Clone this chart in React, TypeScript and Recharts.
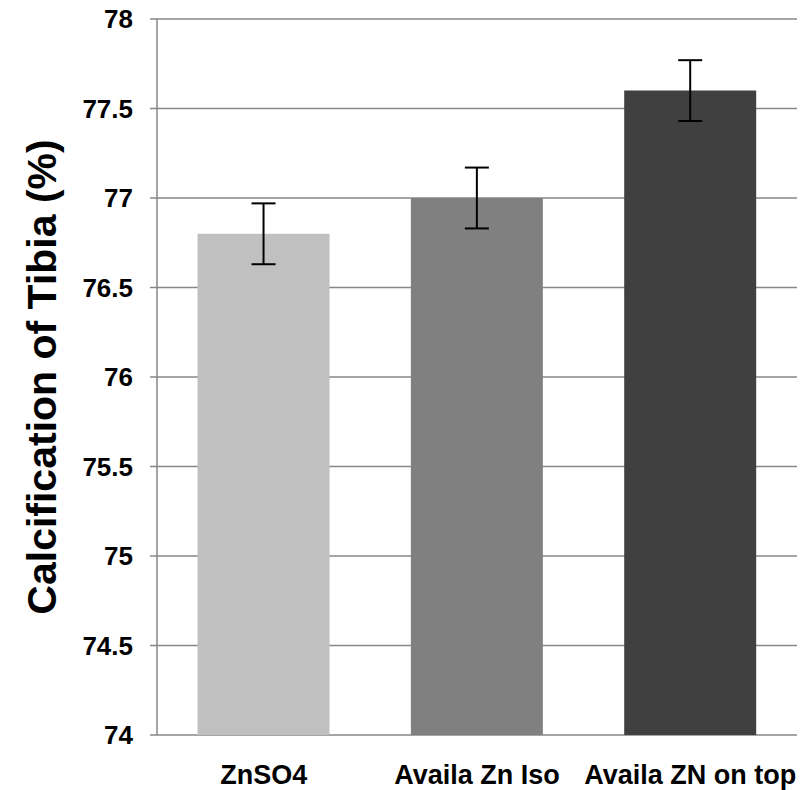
import React from 'react';
import { BarChart, Bar, XAxis, YAxis, CartesianGrid, Cell, ErrorBar } from 'recharts';

const categories = ['ZnSO4', 'Availa Zn Iso', 'Availa ZN on top'];
const values = [76.8, 77.0, 77.6];
const errors = [0.17, 0.17, 0.17];
const colors = ['#C0C0C0', '#808080', '#404040'];
const yTicks = [74, 74.5, 75, 75.5, 76, 76.5, 77, 77.5, 78];
const boundaryTicks = [0, 1, 2, 3];
const yLabel = 'Calcification of Tibia (%)';

const data = categories.map((name, i) => ({ name, value: values[i], err: errors[i] }));

const FONT = '"Liberation Sans", Arial, sans-serif';
const GRID = '#878787';

const YLabel = (props: any) => {
  const vb = props.viewBox || {};
  const cx = (vb.x ?? 0) + 42;
  const cy = (vb.y ?? 0) + (vb.height ?? 0) / 2;
  return (
    <text x={cx} y={cy} transform={`rotate(-90 ${cx} ${cy})`} textAnchor="middle" dominantBaseline="central"
      fontFamily={FONT} fontWeight="bold" fontSize={41} fill="#000">{yLabel}</text>
  );
};

export default function App() {
  return (
    <div style={{ position: 'absolute', left: 0, top: 0, background: '#fff' }}>
      <BarChart width={803} height={790} data={data} margin={{ top: 19, right: 6, left: 0, bottom: 0 }} barCategoryGap="19%">
        <CartesianGrid vertical={false} stroke={GRID} strokeWidth={1.5} xAxisId="cat" />
        <XAxis xAxisId="b" type="number" dataKey="idx" domain={[0, 3]} ticks={boundaryTicks} height={0} tickSize={7}
          tickFormatter={() => ''} axisLine={{ stroke: GRID, strokeWidth: 1.5 }} tickLine={{ stroke: GRID, strokeWidth: 1.5 }} allowDataOverflow />
        <XAxis xAxisId="cat" dataKey="name" height={55} axisLine={false} tickLine={false} tickMargin={24} interval={0}
          tick={{ fontFamily: FONT, fontWeight: 'bold', fontSize: 27, fill: '#000' }} />
        <YAxis width={157} domain={[74, 78]} ticks={yTicks} tickSize={7} tickMargin={17} interval={0}
          axisLine={{ stroke: GRID, strokeWidth: 1.5 }} tickLine={{ stroke: GRID, strokeWidth: 1.5 }}
          tick={{ fontFamily: FONT, fontWeight: 'bold', fontSize: 26, fill: '#000' }}
          label={<YLabel />} />
        <Bar dataKey="value" xAxisId="cat" isAnimationActive={false}>
          {data.map((d, i) => <Cell key={d.name} fill={colors[i]} />)}
          <ErrorBar dataKey="err" width={12} strokeWidth={2} stroke="#000" direction="y" />
        </Bar>
      </BarChart>
    </div>
  );
}
